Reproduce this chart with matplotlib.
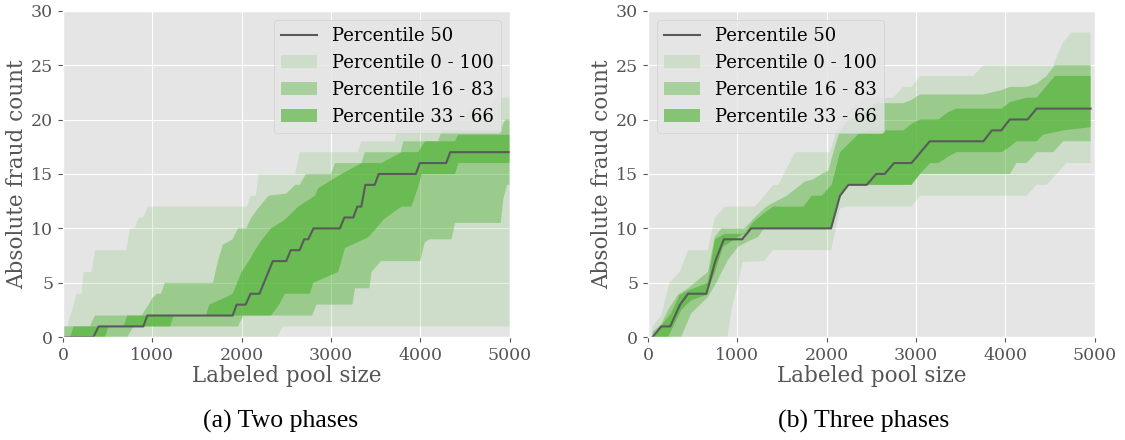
import matplotlib
matplotlib.use("Agg")
import matplotlib.pyplot as plt
import numpy as np

# ---- data: (pool size, fraud count) breakpoints ----

# (a) two phases
a_med_x = [0, 340, 400, 900, 945, 1900, 1945, 2045, 2100, 2200, 2350, 2500, 2550, 2650, 2700, 2745,
           2805, 3100, 3150, 3250, 3295, 3340, 3385, 3490, 3535, 3950, 3995, 4290, 4335, 5000]
a_med_y = [0, 0, 1, 1, 2, 2, 3, 3, 4, 4, 7, 7, 8, 8, 9, 9,
           10, 10, 11, 11, 12, 12, 14, 14, 15, 15, 16, 16, 17, 17]

a_p100_x = [0, 50, 120, 150, 210, 230, 320, 340, 360, 710, 750, 800, 850, 900, 950, 2060, 2100, 2160,
            2190, 2600, 2650, 3300, 3340, 3710, 3740, 4200, 4250, 4500, 4550, 4800, 4850, 5000]
a_p100_y = [1, 1, 3, 4, 4, 6, 6, 7, 8, 8, 10, 10, 11, 11, 12, 12, 13, 13,
            15, 15, 17, 17, 18, 18, 19, 19, 20, 20, 21, 21, 22, 22]
a_p0_x = [0, 2400, 2460, 5000]
a_p0_y = [0, 0, 1, 1]

a_p83_x = [0, 300, 360, 880, 960, 1000, 1050, 1100, 1140, 1680, 1735, 1790, 1900, 1960, 2050, 2110,
           2200, 2300, 2500, 2600, 2650, 2720, 3000, 3045, 3340, 3380, 3780, 3810, 4200, 4240,
           4900, 4950, 5000]
a_p83_y = [1, 1, 2, 2, 3, 3.6, 4, 4, 5, 5, 7, 8.5, 9, 10, 10, 11,
           12, 13, 13.2, 14, 14, 15, 15, 16, 16, 17, 17, 18, 18, 19,
           19, 20, 20]
a_p16_x = [0, 720, 790, 1960, 2020, 2790, 2840, 3240, 3270, 3430, 3455, 3560, 4000, 4050, 4100,
           4350, 4390, 4900, 4930, 4970, 5000]
a_p16_y = [0, 0, 1, 1, 2, 2, 3, 3, 4.5, 4.5, 6, 7, 7, 8.7, 9,
           9, 10.5, 10.5, 12.7, 14, 14]

a_p66_x = [0, 80, 120, 680, 720, 1600, 1640, 1830, 1900, 1950, 2000, 2080, 2150, 2230, 2330, 2485,
           2634, 2821, 2858, 3119, 3343, 3567, 3791, 3977, 4052, 4388, 4425, 5000]
a_p66_y = [0, 0, 1, 1, 2, 2, 3, 3.7, 4, 5, 6, 7, 8, 9, 10, 10.8,
           12, 13, 13.7, 15, 16, 16, 17, 17, 18, 18, 18.6, 18.6]
a_p33_x = [0, 470, 510, 1200, 1240, 2330, 2420, 2485, 2765, 2800, 3080, 3157, 3420, 3600, 3790,
           3900, 3977, 4015, 4390, 4425, 5000]
a_p33_y = [0, 0, 1, 1, 2, 2, 3, 4, 4, 5, 6, 8.2, 9.2, 10.9, 12,
           12, 13.8, 15, 15, 16, 16]

# (b) three phases
b_med_x = [50, 150, 250, 360, 450, 655, 755, 850, 1055, 1155, 2050, 2150, 2245, 2450, 2555, 2650,
           2755, 2950, 3155, 3755, 3850, 3955, 4050, 4250, 4350, 4955]
b_med_y = [0, 1, 1, 3, 4, 4, 7, 9, 9, 10, 10, 13, 14, 14, 15, 15,
           16, 16, 18, 18, 19, 19, 20, 20, 21, 21]

b_p100_x = [50, 150, 240, 355, 450, 670, 750, 860, 1190, 1250, 1404, 1460, 1646, 2038, 2113, 2168,
            2280, 2430, 2746, 2858, 2951, 3045, 3642, 3754, 4536, 4640, 4741, 4955]
b_p100_y = [1, 2, 5, 6, 8, 8, 11, 12, 12, 12.5, 14, 14, 17, 17, 19, 20,
            21, 22, 22, 23, 23, 24, 24, 25, 25, 27, 28, 28]
b_p0_x = [50, 890, 935, 1010, 1060, 1300, 1400, 2050, 2150, 2205, 2951, 3045, 4238, 4350, 4462,
          4574, 4686, 4955]
b_p0_y = [0, 0, 2.5, 5, 6.9, 7, 8, 8, 11.8, 12, 12, 13, 13, 14, 14,
          15, 16, 16]

b_p83_x = [50, 150, 225, 336, 449, 580, 672, 747, 822, 1080, 1195, 1325, 1553, 1758, 1852, 1945,
           2019, 2094, 2150, 2250, 2400, 2550, 2858, 2951, 3045, 3754, 3958, 4052, 4238, 4350,
           4462, 4555, 4955]
b_p83_y = [0.5, 1.2, 2.5, 3.9, 4.5, 5.4, 6, 9.2, 10, 10, 11, 12, 13, 14.3, 14.5, 15,
           15.3, 17.5, 19, 20, 20.5, 21.5, 21.5, 21.8, 22.3, 22.3, 22.7, 23, 23, 23.3,
           24, 25, 25]
b_p16_x = [50, 370, 486, 560, 672, 766, 896, 1008, 1120, 1232, 1300, 2050, 2150, 2245, 2950, 3045,
           4052, 4126, 4238, 4350, 4536, 4648, 4955]
b_p16_y = [0, 0, 2.2, 2.8, 3.7, 5, 7.1, 8.3, 8.8, 9.2, 10, 10, 13, 14, 14, 15,
           15, 16, 16, 17, 17, 18, 18]

b_p66_x = [50, 150, 260, 355, 450, 670, 750, 860, 1080, 1180, 1300, 1404, 1740, 1833, 1945, 2057,
           2150, 2374, 2485, 2858, 2951, 3045, 3250, 3362, 3455, 3958, 4052, 4238, 4350, 4555, 4955]
b_p66_y = [0, 1.1, 2.2, 3.9, 4.3, 5, 9, 9.5, 9.5, 10.6, 11.4, 12, 12, 13, 13, 14,
           17, 18.8, 19, 19, 19.6, 20, 20, 20.7, 21, 21, 21.6, 22, 22, 24, 24]
b_p33_x = [50, 225, 374, 486, 654, 747, 840, 971, 1157, 2050, 2150, 2245, 2950, 3045, 3157, 3250,
           3362, 3455, 3958, 4052, 4126, 4350, 4424, 4648, 4955]
b_p33_y = [0, 0, 2.5, 3.4, 3.9, 5.9, 8.3, 9, 10, 10, 13, 14, 14, 15, 16, 16,
           16.6, 17, 17, 17.5, 18, 18, 18.6, 19, 19.3]

panels = [
    ("(a) Two phases", "upper right",
     (a_med_x, a_med_y), (a_p0_x, a_p0_y, a_p100_x, a_p100_y),
     (a_p16_x, a_p16_y, a_p83_x, a_p83_y), (a_p33_x, a_p33_y, a_p66_x, a_p66_y)),
    ("(b) Three phases", "upper left",
     (b_med_x, b_med_y), (b_p0_x, b_p0_y, b_p100_x, b_p100_y),
     (b_p16_x, b_p16_y, b_p83_x, b_p83_y), (b_p33_x, b_p33_y, b_p66_x, b_p66_y)),
]

plt.style.use("ggplot")
plt.rcParams["font.family"] = "DejaVu Serif"

green = "#4eb232"
band_alpha = [0.15, 0.4, 0.63]
band_labels = ["Percentile 0 - 100", "Percentile 16 - 83", "Percentile 33 - 66"]

fig = plt.figure(figsize=(11.25, 4.4), dpi=100)
ax_pos = [[0.0559, 0.2334, 0.3971, 0.7425], [0.5759, 0.2334, 0.3971, 0.7425]]
caption_x = [0.249, 0.768]

for i, (caption, loc, med, b1, b2, b3) in enumerate(panels):
    ax = fig.add_axes(ax_pos[i])
    handles = []
    for band, alpha, lab in zip([b1, b2, b3], band_alpha, band_labels):
        lo_x, lo_y, hi_x, hi_y = band
        px = np.concatenate([hi_x, lo_x[::-1]])
        py = np.concatenate([hi_y, lo_y[::-1]])
        handles += ax.fill(px, py, color=green, alpha=alpha, lw=0, label=lab)
    line, = ax.plot(med[0], med[1], color="#5a5a5a", lw=1.5, label="Percentile 50")

    ax.set_xlim(0, 5000)
    ax.set_ylim(0, 30)
    ax.set_xticks(np.arange(0, 5001, 1000))
    ax.set_yticks(np.arange(0, 31, 5))
    ax.tick_params(labelsize=12.5)
    ax.set_xlabel("Labeled pool size", fontsize=15.5, labelpad=1)
    ax.set_ylabel("Absolute fraud count", fontsize=15.5, labelpad=2)
    ax.legend([line] + handles, [line.get_label()] + band_labels, loc=loc, fontsize=13)

    fig.text(caption_x[i], 0.043, caption, ha="center", va="center",
             fontsize=18.5, family="Liberation Serif", color="black")

fig.savefig("out.png", dpi=100)
